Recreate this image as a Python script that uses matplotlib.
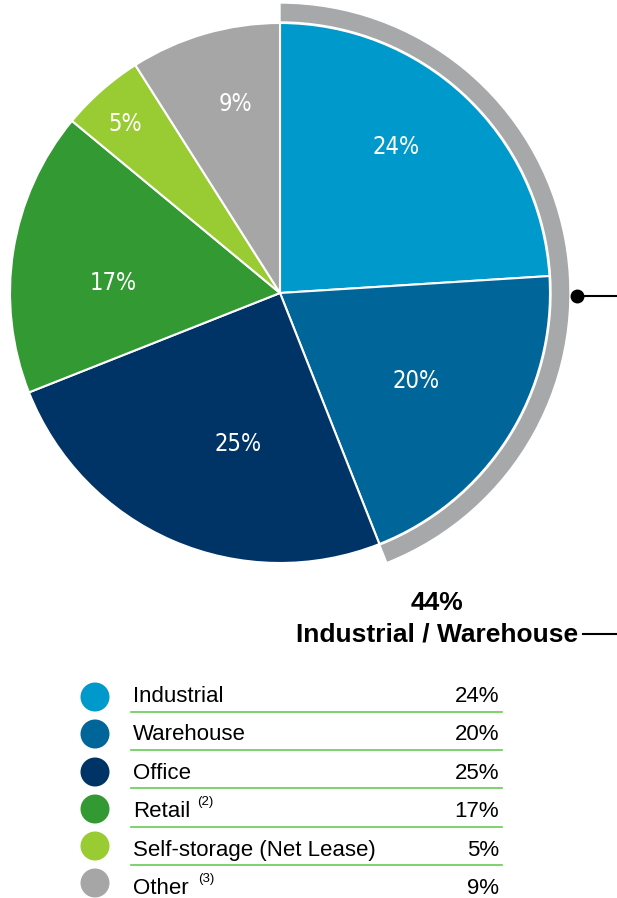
import numpy as np
import matplotlib.pyplot as plt
from matplotlib.patches import Wedge, Circle
from matplotlib import font_manager

# data
categories = ["Industrial", "Warehouse", "Office", "Retail", "Self-storage (Net Lease)", "Other"]
shares = [24, 20, 25, 17, 5, 9]
notes = ["", "", "", "(2)", "", "(3)"]
colors = ["#0099CC", "#006699", "#003366", "#339933", "#99CC33", "#A6A6A6"]
label_dist = [0.69, 0.60, 0.58, 0.62, 0.85, 0.72]   # fraction of radius
label_turn = [4.7, -0.5, 8.0, 5.6, 1.0, -3.0]       # degrees off the wedge middle
group_label = "Industrial / Warehouse"
group_share = 44

plt.rcParams['font.family'] = ['Liberation Sans', 'DejaVu Sans']

# narrow font for the slice labels if one is around
narrow = dict(family=['Liberation Sans'], fontsize=15)
for fam, stretch, size in [('Liberation Sans Narrow', 'normal', 19), ('DejaVu Sans', 'condensed', 17)]:
    try:
        fp = font_manager.FontProperties(family=fam, stretch=stretch)
        path = font_manager.findfont(fp, fallback_to_default=False)
        if fam == 'Liberation Sans Narrow' or 'Condensed' in path:
            narrow = dict(family=[fam], fontstretch=stretch, fontsize=size)
            break
    except Exception:
        pass

W, H = 617, 898
fig = plt.figure(figsize=(W / 100, H / 100), dpi=100)
ax = fig.add_axes([0, 0, 1, 1])

cx, cy, r = 280, H - 293, 270

wedges, texts = ax.pie(
    shares, colors=colors, startangle=90, counterclock=False,
    center=(cx, cy), radius=r,
    wedgeprops=dict(edgecolor='white', linewidth=1.5))
ax.set_xlim(0, W)
ax.set_ylim(0, H)
ax.set_aspect('equal')
ax.axis('off')

for w, val, d, t in zip(wedges, shares, label_dist, label_turn):
    mid = np.radians((w.theta1 + w.theta2) / 2 + t)
    ax.text(cx + d * r * np.cos(mid), cy + d * r * np.sin(mid), f"{val}%",
            ha='center', va='center', color='white', **narrow)

# gray bracket arc around industrial + warehouse
end_ang = 90 - 360 * (shares[0] + shares[1]) / sum(shares)
ax.add_patch(Wedge((cx, cy), r + 20, end_ang, 90, width=19, facecolor='#A7A8AA',
                   edgecolor='white', linewidth=1))

# connector
ax.plot([577, W], [H - 296, H - 296], color='black', lw=1.5)
ax.plot([577], [H - 296], 'o', color='black', ms=9)
ax.plot([583, W], [H - 634, H - 634], color='black', lw=1.5)
ax.text(437, H - 603, f"{group_share}%", ha='center', va='center', fontsize=19, fontweight='bold')
ax.text(437, H - 634, group_label, ha='center', va='center', fontsize=19, fontweight='bold')

# legend table
baseline_y = [702, 740, 779, 817, 856, 894]
dot_y = [697, 734, 772, 809, 846, 883]
line_y = [712, 750, 788, 827, 865]
sup_x = {3: 197, 5: 198}
for i, (cat, val) in enumerate(zip(categories, shares)):
    y = H - baseline_y[i]
    ax.add_patch(Circle((95, H - dot_y[i]), 14.5, facecolor=colors[i], edgecolor='none'))
    ax.text(133, y, cat, ha='left', va='baseline', fontsize=16)
    if notes[i]:
        ax.text(sup_x[i], y + 12, notes[i], ha='left', va='baseline', fontsize=9.5)
    ax.text(499, y, f"{val}%", ha='right', va='baseline', fontsize=16)
for ly in line_y:
    ax.plot([131, 502], [H - ly, H - ly], color='#66CC55', lw=1.2)

fig.savefig("out.png", dpi=100)
